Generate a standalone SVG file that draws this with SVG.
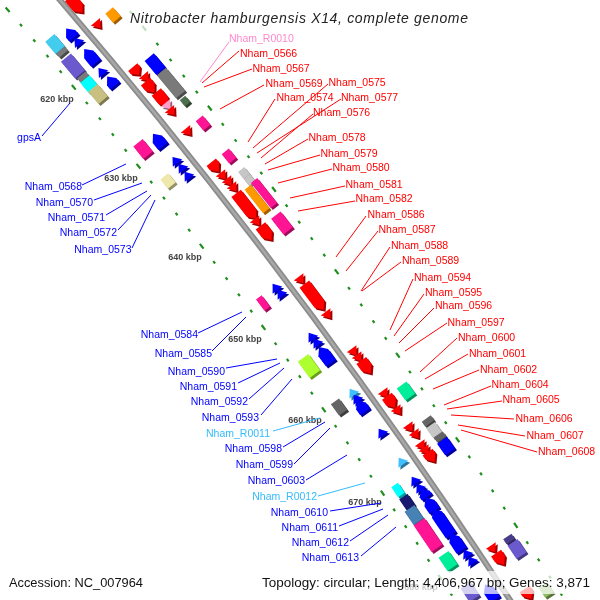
<svg xmlns="http://www.w3.org/2000/svg" width="600" height="600" viewBox="0 0 600 600">
<style>
.lbl{font-family:"Liberation Sans",Arial,sans-serif;font-size:10.5px}
.lr{fill:#ff0000}.lb{fill:#0000ff;text-anchor:end}.lp{fill:#ff88cc}.ll{fill:#33bbff;text-anchor:end}
.kb{font-family:"Liberation Sans",Arial,sans-serif;font-size:9px;font-weight:bold;fill:#444;text-anchor:middle}
.cr{stroke:#ff0000;stroke-width:1}.cb{stroke:#0000ff;stroke-width:1}.cp{stroke:#ff88cc;stroke-width:1}.cl{stroke:#33bbff;stroke-width:1}
.ring{fill:none;stroke:#1f8f1f;stroke-width:2.2}
.r{fill:#ff0000}.b{fill:#0000ff}.m{fill:#ff1493}.o{fill:#ff9900}.g{fill:#7a7a7a}.lg{fill:#c6c6c6}.dg{fill:#656565}
.cy{fill:#00ffff}.cy2{fill:#44ccee}.sb{fill:#6a5acd}.dsb{fill:#483d8b}.kh{fill:#c8c080}.pk{fill:#eee8aa}
.yg{fill:#adff2f}.aq{fill:#00ee99}.nv{fill:#191970}.st{fill:#4682b4}.lbf{fill:#40c0ff}.pi{fill:#ffa0c8}.og{fill:#4e6e4e}.gn{fill:#8fbc60}
</style>
<defs>
<filter id="x3d" x="-5%" y="-5%" width="110%" height="110%" color-interpolation-filters="sRGB">
<feOffset in="SourceGraphic" dx="2" dy="2" result="o"/>
<feComponentTransfer in="o" result="d"><feFuncR type="linear" slope="0.62"/><feFuncG type="linear" slope="0.62"/><feFuncB type="linear" slope="0.62"/></feComponentTransfer>
<feMerge><feMergeNode in="d"/><feMergeNode in="SourceGraphic"/></feMerge>
</filter>
<path id="tf" d="M-4,-6L4,0L-4,6Z"/>
<path id="tr" d="M4,-6L-4,0L4,6Z"/>
<path id="F10" d="M-5,-6H-1L5,0L-1,6H-5Z"/>
<path id="F12" d="M-6,-6H-1L6,0L-1,6H-6Z"/>
<path id="F14" d="M-7,-6H0L7,0L0,6H-7Z"/>
<path id="F16" d="M-8,-6H1L8,0L1,6H-8Z"/>
<path id="F18" d="M-9,-6H2L9,0L2,6H-9Z"/>
<path id="F20" d="M-10,-6H3L10,0L3,6H-10Z"/>
<path id="F32" d="M-16,-6H9L16,0L9,6H-16Z"/>
<path id="R10" d="M5,-6H1L-5,0L1,6H5Z"/>
<path id="R12" d="M6,-6H1L-6,0L1,6H6Z"/>
<path id="R14" d="M7,-6H0L-7,0L0,6H7Z"/>
<path id="R16" d="M8,-6H-1L-8,0L-1,6H8Z"/>
<path id="R18" d="M9,-6H-2L-9,0L-2,6H9Z"/>
<path id="R20" d="M10,-6H-3L-10,0L-3,6H10Z"/>
<path id="R32" d="M16,-6H-9L-16,0L-9,6H16Z"/>
</defs>
<rect width="600" height="600" fill="#ffffff"/>
<g id="rings">
<path class="ring" d="M-32.6,-36.1Q263.3,296.9 512.8,689.1" stroke-dasharray="6 15.9 3 17.4 3 17.4 3 17.4 3 15.9" stroke-dashoffset="44"/>
<path class="ring" d="M36.2,-97.1Q336.9,241.3 590.4,639.7" stroke-dasharray="6 16.2 3 17.7 3 17.7 3 17.7 3 16.2" stroke-dashoffset="44.6"/>
</g>
<g id="backbone" fill="none">
<path d="M1.8,-66.6Q300.1,269.1 551.6,664.4" stroke="#8c8c8c" stroke-width="6"/>
<path d="M1.8,-66.6Q300.1,269.1 551.6,664.4" stroke="#a8a8a8" stroke-width="2.4"/>
</g>
<g id="features" filter="url(#x3d)">
<g id="track-outer1">
<use id="f1" href="#F20" class="r" transform="translate(76,5) rotate(49.4)"/>
<use id="f2" href="#tf" class="r" transform="translate(98,25) rotate(49.6)"/>
<use id="f3" href="#F10" class="r" transform="translate(136,71) rotate(50.2)"/>
<use id="f4" href="#tf" class="r" transform="translate(146,78) rotate(50.3)"/>
<use id="f5" href="#F14" class="r" transform="translate(150,87) rotate(50.4)"/>
<use id="f6" href="#F18" class="r" transform="translate(162,99) rotate(50.5)"/>
<use id="f7" href="#tf" class="pi" transform="translate(168,106) rotate(50.6)"/>
<use id="f8" href="#tf" class="r" transform="translate(172,112) rotate(50.7)"/>
<use id="f9" href="#tf" class="r" transform="translate(188,132) rotate(50.95)"/>
<use id="f10" href="#F12" class="r" transform="translate(215,167) rotate(51.4)"/>
<use id="f11" href="#tf" class="r" transform="translate(223,176) rotate(51.5)"/>
<use id="f12" href="#tf" class="r" transform="translate(229,182) rotate(51.6)"/>
<use id="f13" href="#tf" class="r" transform="translate(234,188) rotate(51.65)"/>
<use id="f14" href="#F32" class="r" transform="translate(246,206) rotate(51.9)"/>
<use id="f15" href="#tf" class="r" transform="translate(257,222) rotate(52.1)"/>
<use id="f16" href="#F18" class="r" transform="translate(266,233) rotate(52.2)"/>
<use id="f17" href="#tf" class="r" transform="translate(301,280) rotate(52.8)"/>
<use id="f18" href="#F32" class="r" transform="translate(314,297) rotate(53)"/>
<use id="f19" href="#tf" class="r" transform="translate(328,315) rotate(53.2)"/>
<use id="f20" href="#tf" class="r" transform="translate(354,352) rotate(53.7)"/>
<use id="f21" href="#tf" class="r" transform="translate(359,358) rotate(53.8)"/>
<use id="f22" href="#F16" class="r" transform="translate(366,367) rotate(53.9)"/>
<use id="f23" href="#tf" class="r" transform="translate(385,394) rotate(54.2)"/>
<use id="f24" href="#F14" class="r" transform="translate(391,402) rotate(54.3)"/>
<use id="f25" href="#tf" class="r" transform="translate(398,411) rotate(54.4)"/>
<use id="f26" href="#tf" class="r" transform="translate(410,428) rotate(54.6)"/>
<use id="f27" href="#tf" class="r" transform="translate(416,435) rotate(54.7)"/>
<use id="f28" href="#tf" class="r" transform="translate(422,446) rotate(54.9)"/>
<use id="f29" href="#tf" class="r" transform="translate(426,451) rotate(54.9)"/>
<use id="f30" href="#F12" class="r" transform="translate(431,457) rotate(55)"/>
<use id="f31" href="#tf" class="r" transform="translate(493,549) rotate(56.2)"/>
<use id="f32" href="#F14" class="r" transform="translate(500,559) rotate(56.3)"/>
<use id="f33" href="#F12" class="r" transform="translate(528,594) rotate(56.7)"/>
</g>
<g id="track-outer2">
<rect id="f34" class="o" x="-6" y="-5" width="12" height="10" transform="translate(113,15) rotate(49.5)"/>
<rect id="f35" class="b" x="-9" y="-6" width="18" height="12" transform="translate(155,64) rotate(50.1)"/>
<rect id="f36" class="g" x="-15" y="-6" width="30" height="12" transform="translate(171,83) rotate(50.3)"/>
<rect id="f37" class="og" x="-4" y="-3.5" width="8" height="7" transform="translate(185,101) rotate(50.6)"/>
<rect id="f38" class="m" x="-6" y="-4.5" width="12" height="9" transform="translate(203,123) rotate(50.8)"/>
<rect id="f39" class="m" x="-6" y="-4.5" width="12" height="9" transform="translate(229,156) rotate(51.25)"/>
<rect id="f40" class="lg" x="-4.5" y="-4" width="9" height="8" transform="translate(244,173) rotate(51.5)"/>
<rect id="f41" class="lg" x="-4.5" y="-4" width="9" height="8" transform="translate(249.5,180) rotate(51.5)"/>
<rect id="f42" class="o" x="-15" y="-4" width="30" height="8" transform="translate(257,199) rotate(51.8)"/>
<rect id="f43" class="m" x="-16" y="-4" width="32" height="8" transform="translate(264,193) rotate(51.7)"/>
<rect id="f44" class="m" x="-10" y="-6" width="20" height="12" transform="translate(282,223) rotate(52.1)"/>
<rect id="f45" class="aq" x="-7.5" y="-6" width="15" height="12" transform="translate(406,391) rotate(54.2)"/>
<rect id="f46" class="dg" x="-3" y="-5.5" width="6" height="11" transform="translate(428,421) rotate(54.6)"/>
<rect id="f47" class="lg" x="-6" y="-5.5" width="12" height="11" transform="translate(434,430) rotate(54.6)"/>
<rect id="f48" class="dg" x="-3" y="-5.5" width="6" height="11" transform="translate(440,437) rotate(54.8)"/>
<rect id="f49" class="b" x="-7" y="-6" width="14" height="12" transform="translate(446,446) rotate(54.8)"/>
<rect id="f50" class="dsb" x="-3" y="-5" width="6" height="10" transform="translate(509,539) rotate(56.1)"/>
<rect id="f51" class="sb" x="-8" y="-6" width="16" height="12" transform="translate(517,549) rotate(56.1)"/>
<rect id="f52" class="gn" x="-6" y="-5" width="12" height="10" transform="translate(546,590) rotate(56.7)"/>
</g>
<g id="track-inner1">
<use id="f53" href="#R12" class="b" transform="translate(70,33) rotate(49.7)"/>
<use id="f54" href="#tr" class="b" transform="translate(77,41) rotate(49.8)"/>
<use id="f55" href="#R18" class="b" transform="translate(90,56) rotate(50)"/>
<use id="f56" href="#tr" class="b" transform="translate(101,71) rotate(50.2)"/>
<use id="f57" href="#R12" class="b" transform="translate(111,81) rotate(50.3)"/>
<use id="f58" href="#R16" class="b" transform="translate(158,140) rotate(51.05)"/>
<use id="f59" href="#tr" class="b" transform="translate(175,160) rotate(51.3)"/>
<use id="f60" href="#tr" class="b" transform="translate(181,167) rotate(51.4)"/>
<use id="f61" href="#tr" class="b" transform="translate(187,175) rotate(51.5)"/>
<use id="f62" href="#tr" class="b" transform="translate(275,287) rotate(52.9)"/>
<use id="f63" href="#tr" class="b" transform="translate(280,293) rotate(53)"/>
<use id="f64" href="#tr" class="b" transform="translate(311,336) rotate(53.5)"/>
<use id="f65" href="#tr" class="b" transform="translate(316,342) rotate(53.6)"/>
<use id="f66" href="#R20" class="b" transform="translate(325,355) rotate(53.7)"/>
<use id="f67" href="#tr" class="lbf" transform="translate(352,392) rotate(54.2)"/>
<use id="f68" href="#tr" class="b" transform="translate(356,398) rotate(54.3)"/>
<use id="f69" href="#R14" class="b" transform="translate(361,406) rotate(54.4)"/>
<use id="f70" href="#tr" class="b" transform="translate(381,432) rotate(54.7)"/>
<use id="f71" href="#tr" class="lbf" transform="translate(401,461) rotate(55.1)"/>
<use id="f72" href="#tr" class="b" transform="translate(414,480) rotate(55.3)"/>
<use id="f73" href="#tr" class="b" transform="translate(419,487) rotate(55.4)"/>
<use id="f74" href="#R10" class="b" transform="translate(424,493) rotate(55.5)"/>
<use id="f75" href="#R16" class="b" transform="translate(430,504) rotate(55.6)"/>
<use id="f76" href="#R32" class="b" transform="translate(442,522) rotate(55.8)"/>
<use id="f77" href="#R20" class="b" transform="translate(456,542) rotate(56.1)"/>
<use id="f78" href="#tr" class="b" transform="translate(466,553) rotate(56.2)"/>
<use id="f79" href="#tr" class="b" transform="translate(471,560) rotate(56.3)"/>
<use id="f80" href="#R18" class="b" transform="translate(490,592) rotate(56.7)"/>
</g>
<g id="track-inner2">
<rect id="f81" class="cy2" x="-8" y="-6" width="16" height="12" transform="translate(55,44) rotate(49.85)"/>
<rect id="f82" class="g" x="-2.5" y="-5.5" width="5" height="11" transform="translate(62,52) rotate(49.9)"/>
<rect id="f83" class="sb" x="-11" y="-6.5" width="22" height="13" transform="translate(73,66) rotate(50.1)"/>
<rect id="f84" class="g" x="-2.5" y="-5.5" width="5" height="11" transform="translate(83,77) rotate(50.3)"/>
<rect id="f85" class="cy" x="-6.5" y="-6" width="13" height="12" transform="translate(89,84) rotate(50.3)"/>
<rect id="f86" class="kh" x="-8" y="-6" width="16" height="12" transform="translate(98,94) rotate(50.4)"/>
<rect id="f87" class="m" x="-8" y="-6" width="16" height="12" transform="translate(143,149) rotate(51.2)"/>
<rect id="f88" class="pk" x="-6" y="-5" width="12" height="10" transform="translate(168,181) rotate(51.6)"/>
<rect id="f89" class="m" x="-7" y="-3.5" width="14" height="7" transform="translate(263,303) rotate(53.1)"/>
<rect id="f90" class="yg" x="-10" y="-6.5" width="20" height="13" transform="translate(309,366) rotate(53.9)"/>
<rect id="f91" class="dg" x="-7" y="-5" width="14" height="10" transform="translate(339,407) rotate(54.4)"/>
<rect id="f92" class="cy" x="-6" y="-4" width="12" height="8" transform="translate(398,490) rotate(55.4)"/>
<rect id="f93" class="nv" x="-6.5" y="-5" width="13" height="10" transform="translate(407,502) rotate(55.6)"/>
<rect id="f94" class="st" x="-8" y="-6" width="16" height="12" transform="translate(414,515) rotate(55.7)"/>
<rect id="f95" class="m" x="-16" y="-6.5" width="32" height="13" transform="translate(428,535) rotate(55.9)"/>
<rect id="f96" class="aq" x="-8" y="-6" width="16" height="12" transform="translate(448,561) rotate(56.3)"/>
<rect id="f97" class="sb" x="-8" y="-6" width="16" height="12" transform="translate(470,592) rotate(56.7)"/>
</g>
</g>
<g id="kbp-labels">
<text class="kb" x="57" y="102">620 kbp</text>
<text class="kb" x="121" y="181">630 kbp</text>
<text class="kb" x="185" y="260">640 kbp</text>
<text class="kb" x="245" y="341.5">650 kbp</text>
<text class="kb" x="305" y="423">660 kbp</text>
<text class="kb" x="365" y="505">670 kbp</text>
<text class="kb" x="421" y="590">680 kbp</text>
</g>
<g id="connectors">
<line class="cp" x1="229" y1="42" x2="200" y2="82"/>
<line class="cr" x1="239" y1="51" x2="202" y2="83"/>
<line class="cr" x1="252" y1="69" x2="204" y2="87"/>
<line class="cr" x1="264" y1="85" x2="220" y2="109"/>
<line class="cr" x1="275" y1="99" x2="248" y2="142"/>
<line class="cr" x1="328" y1="84" x2="253" y2="148"/>
<line class="cr" x1="341" y1="99" x2="257" y2="153"/>
<line class="cr" x1="313" y1="114" x2="261" y2="158"/>
<line class="cr" x1="308" y1="139" x2="265" y2="164"/>
<line class="cr" x1="320" y1="155" x2="268" y2="170"/>
<line class="cr" x1="332" y1="169" x2="278" y2="183"/>
<line class="cr" x1="345" y1="186" x2="290" y2="198"/>
<line class="cr" x1="355" y1="201" x2="298" y2="211"/>
<line class="cr" x1="366" y1="216" x2="336" y2="257"/>
<line class="cr" x1="378" y1="231" x2="346" y2="271"/>
<line class="cr" x1="390" y1="247" x2="361" y2="291"/>
<line class="cr" x1="401" y1="262" x2="362" y2="291"/>
<line class="cr" x1="413" y1="279" x2="390" y2="330"/>
<line class="cr" x1="424" y1="294" x2="394" y2="336"/>
<line class="cr" x1="434" y1="308" x2="399" y2="343"/>
<line class="cr" x1="447" y1="323" x2="405" y2="351"/>
<line class="cr" x1="457" y1="338" x2="420" y2="372"/>
<line class="cr" x1="468" y1="354" x2="425" y2="379"/>
<line class="cr" x1="479" y1="370" x2="433" y2="389"/>
<line class="cr" x1="491" y1="386" x2="444" y2="405"/>
<line class="cr" x1="502" y1="401" x2="447" y2="409"/>
<line class="cr" x1="514" y1="419" x2="451" y2="415"/>
<line class="cr" x1="525" y1="436" x2="458" y2="425"/>
<line class="cr" x1="537" y1="452" x2="461" y2="430"/>
<line class="cb" x1="42" y1="136" x2="70" y2="103"/>
<line class="cb" x1="82" y1="185" x2="126" y2="164"/>
<line class="cb" x1="94" y1="200" x2="142" y2="183"/>
<line class="cb" x1="106" y1="215" x2="147" y2="191"/>
<line class="cb" x1="118" y1="230" x2="151" y2="195"/>
<line class="cb" x1="132" y1="248" x2="155" y2="200"/>
<line class="cb" x1="198" y1="333" x2="242" y2="312"/>
<line class="cb" x1="212" y1="351" x2="246" y2="317"/>
<line class="cb" x1="226" y1="368" x2="277" y2="359"/>
<line class="cb" x1="238" y1="383" x2="280" y2="363"/>
<line class="cb" x1="249" y1="399" x2="284" y2="368"/>
<line class="cb" x1="261" y1="415" x2="292" y2="379"/>
<line class="cl" x1="273" y1="431" x2="320" y2="418"/>
<line class="cb" x1="283" y1="447" x2="325" y2="422"/>
<line class="cb" x1="294" y1="464" x2="330" y2="428"/>
<line class="cb" x1="306" y1="480" x2="347" y2="455"/>
<line class="cl" x1="318" y1="496" x2="365" y2="483"/>
<line class="cb" x1="330" y1="511" x2="381" y2="503"/>
<line class="cb" x1="339" y1="526" x2="383" y2="509"/>
<line class="cb" x1="350" y1="541" x2="388" y2="515"/>
<line class="cb" x1="361" y1="556" x2="396" y2="527"/>
</g>
<g id="labels" class="lbl">
<g id="lbl-Nham_R0010"><text class="lp" x="229" y="42">Nham_R0010</text></g>
<g id="lbl-Nham_0566"><text class="lr" x="240" y="57">Nham_0566</text></g>
<g id="lbl-Nham_0567"><text class="lr" x="252.5" y="72">Nham_0567</text></g>
<g id="lbl-Nham_0569"><text class="lr" x="265.5" y="87">Nham_0569</text></g>
<g id="lbl-Nham_0575"><text class="lr" x="328.5" y="86">Nham_0575</text></g>
<g id="lbl-Nham_0574"><text class="lr" x="276.5" y="101">Nham_0574</text></g>
<g id="lbl-Nham_0577"><text class="lr" x="341" y="101">Nham_0577</text></g>
<g id="lbl-Nham_0576"><text class="lr" x="313" y="116">Nham_0576</text></g>
<g id="lbl-Nham_0578"><text class="lr" x="308.5" y="141">Nham_0578</text></g>
<g id="lbl-Nham_0579"><text class="lr" x="320.5" y="156.5">Nham_0579</text></g>
<g id="lbl-Nham_0580"><text class="lr" x="332.5" y="171">Nham_0580</text></g>
<g id="lbl-Nham_0581"><text class="lr" x="345.5" y="188">Nham_0581</text></g>
<g id="lbl-Nham_0582"><text class="lr" x="355.5" y="202">Nham_0582</text></g>
<g id="lbl-Nham_0586"><text class="lr" x="367.5" y="218">Nham_0586</text></g>
<g id="lbl-Nham_0587"><text class="lr" x="378.5" y="233">Nham_0587</text></g>
<g id="lbl-Nham_0588"><text class="lr" x="391" y="249">Nham_0588</text></g>
<g id="lbl-Nham_0589"><text class="lr" x="402" y="264">Nham_0589</text></g>
<g id="lbl-Nham_0594"><text class="lr" x="414" y="281">Nham_0594</text></g>
<g id="lbl-Nham_0595"><text class="lr" x="425" y="296">Nham_0595</text></g>
<g id="lbl-Nham_0596"><text class="lr" x="435" y="309">Nham_0596</text></g>
<g id="lbl-Nham_0597"><text class="lr" x="447.5" y="326">Nham_0597</text></g>
<g id="lbl-Nham_0600"><text class="lr" x="458" y="341">Nham_0600</text></g>
<g id="lbl-Nham_0601"><text class="lr" x="469" y="357">Nham_0601</text></g>
<g id="lbl-Nham_0602"><text class="lr" x="480" y="373">Nham_0602</text></g>
<g id="lbl-Nham_0604"><text class="lr" x="491.5" y="388">Nham_0604</text></g>
<g id="lbl-Nham_0605"><text class="lr" x="502.5" y="403">Nham_0605</text></g>
<g id="lbl-Nham_0606"><text class="lr" x="515.5" y="422">Nham_0606</text></g>
<g id="lbl-Nham_0607"><text class="lr" x="526.5" y="439">Nham_0607</text></g>
<g id="lbl-Nham_0608"><text class="lr" x="538" y="455">Nham_0608</text></g>
<g id="lbl-gpsA"><text class="lb" x="41" y="141">gpsA</text></g>
<g id="lbl-Nham_0568"><text class="lb" x="82" y="190">Nham_0568</text></g>
<g id="lbl-Nham_0570"><text class="lb" x="93" y="206">Nham_0570</text></g>
<g id="lbl-Nham_0571"><text class="lb" x="105" y="221">Nham_0571</text></g>
<g id="lbl-Nham_0572"><text class="lb" x="117" y="236">Nham_0572</text></g>
<g id="lbl-Nham_0573"><text class="lb" x="131.5" y="253">Nham_0573</text></g>
<g id="lbl-Nham_0584"><text class="lb" x="198" y="338">Nham_0584</text></g>
<g id="lbl-Nham_0585"><text class="lb" x="212" y="357">Nham_0585</text></g>
<g id="lbl-Nham_0590"><text class="lb" x="225" y="375">Nham_0590</text></g>
<g id="lbl-Nham_0591"><text class="lb" x="237" y="390">Nham_0591</text></g>
<g id="lbl-Nham_0592"><text class="lb" x="248" y="405">Nham_0592</text></g>
<g id="lbl-Nham_0593"><text class="lb" x="259" y="421">Nham_0593</text></g>
<g id="lbl-Nham_R0011"><text class="ll" x="270" y="437">Nham_R0011</text></g>
<g id="lbl-Nham_0598"><text class="lb" x="282" y="452">Nham_0598</text></g>
<g id="lbl-Nham_0599"><text class="lb" x="293" y="468">Nham_0599</text></g>
<g id="lbl-Nham_0603"><text class="lb" x="305" y="484">Nham_0603</text></g>
<g id="lbl-Nham_R0012"><text class="ll" x="317" y="500">Nham_R0012</text></g>
<g id="lbl-Nham_0610"><text class="lb" x="328" y="516">Nham_0610</text></g>
<g id="lbl-Nham_0611"><text class="lb" x="338" y="531">Nham_0611</text></g>
<g id="lbl-Nham_0612"><text class="lb" x="349" y="546">Nham_0612</text></g>
<g id="lbl-Nham_0613"><text class="lb" x="359" y="561">Nham_0613</text></g>
</g>
<g id="fades" fill="#ffffff" fill-opacity="0.72">
<rect x="125" y="2" width="350" height="29"/>
<rect x="255" y="571" width="340" height="23"/>
<rect x="4" y="571" width="146" height="23"/>
</g>
<g id="title-block" font-family="'Liberation Sans',Arial,sans-serif">
<text x="130" y="23" font-size="14" font-style="italic" fill="#222" textLength="338" lengthAdjust="spacing">Nitrobacter hamburgensis X14, complete genome</text>
<text x="9" y="587" font-size="13" fill="#111" textLength="134" lengthAdjust="spacingAndGlyphs">Accession: NC_007964</text>
<text x="262" y="587" font-size="13" fill="#111" textLength="328" lengthAdjust="spacingAndGlyphs">Topology: circular; Length: 4,406,967 bp; Genes: 3,871</text>
</g>
</svg>
